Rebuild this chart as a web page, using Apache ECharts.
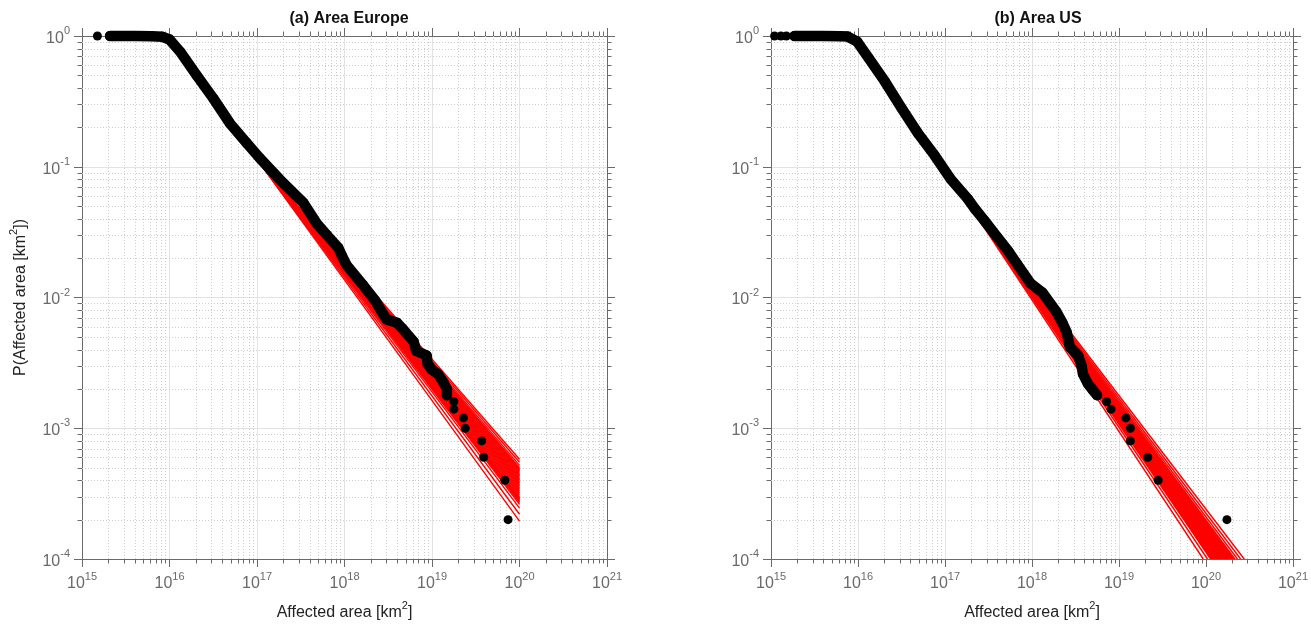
<!DOCTYPE html>
<html>
<head>
<meta charset="utf-8">
<title>Affected area</title>
<script src="https://cdn.jsdelivr.net/npm/echarts@6/dist/echarts.min.js"></script>
<style>
html, body { margin: 0; padding: 0; background: #fff; }
#c1 { width: 1311px; height: 626px; }
</style>
</head>
<body>
<div id="c1"></div>
<script>
// axis decades (tick labels are 10^e)
var xExp = [15, 16, 17, 18, 19, 20, 21];
var yExp = [-4, -3, -2, -1, 0];
var minorMul = [2, 3, 4, 5, 6, 7, 8, 9];

// (a) Europe: empirical CCDF, dense part [area, P]
var euCurve = [
	[2.09e15, 1.0], [3.98e15, 0.998], [6.3e15, 0.995], [8.3e15, 0.985], [1.0e16, 0.94],
	[1.32e16, 0.76], [2.04e16, 0.50], [3.16e16, 0.334], [4.9e16, 0.215], [7.6e16, 0.152],
	[1.07e17, 0.117], [1.82e17, 0.080], [3.39e17, 0.053], [4.79e17, 0.037], [6.3e17, 0.030],
	[8.5e17, 0.024], [9.3e17, 0.021], [1.05e18, 0.0178], [1.62e18, 0.0125], [2.24e18, 0.0095],
	[2.57e18, 0.0081], [3.02e18, 0.0068], [3.98e18, 0.0064], [4.68e18, 0.0057], [6.17e18, 0.0046],
	[6.6e18, 0.0039], [8.7e18, 0.0036], [8.9e18, 0.0031], [1.0e19, 0.0028], [1.17e19, 0.0026],
	[1.35e19, 0.00224], [1.48e19, 0.0020], [1.48e19, 0.00179]
];
// (a) Europe: separate dots
var euDots = [
	[1.5e15, 1.0], [1.78e19, 0.0016], [1.78e19, 0.0014], [2.29e19, 0.0012], [2.4e19, 0.001],
	[3.7e19, 0.0008], [3.9e19, 0.0006], [6.8e19, 0.0004], [7.4e19, 0.0002]
];
// (a) Europe: fitted power laws, all from one start point to P at 1e20
var euFitStart = [1e17, 0.114];
var euFitEndX = 1e20;
var euFitEndP = [
	5.8e-4, 5.5e-4, 5.2e-4, 5.0e-4, 4.9e-4, 4.8e-4, 4.7e-4, 4.6e-4, 4.5e-4, 4.4e-4,
	4.3e-4, 4.2e-4, 4.1e-4, 4.0e-4, 3.9e-4, 3.8e-4, 3.7e-4, 3.6e-4, 3.5e-4, 3.4e-4,
	3.3e-4, 3.2e-4, 3.1e-4, 3.0e-4, 2.95e-4, 2.9e-4, 2.85e-4, 2.8e-4, 2.75e-4, 2.7e-4,
	2.62e-4, 2.45e-4, 2.2e-4, 1.95e-4
];

// (b) US: empirical CCDF, dense part
var usCurve = [
	[1.86e15, 1.0], [3.98e15, 0.998], [6.3e15, 0.995], [7.6e15, 0.99], [9.8e15, 0.905],
	[1.33e16, 0.676], [2.04e16, 0.448], [3.16e16, 0.281], [4.9e16, 0.18], [7.6e16, 0.122],
	[1.17e17, 0.080], [1.82e17, 0.057], [2.19e17, 0.048], [2.82e17, 0.039], [3.09e17, 0.036],
	[3.98e17, 0.029], [5.25e17, 0.023], [6.76e17, 0.018], [9.55e17, 0.0129], [1.32e18, 0.0109],
	[1.9e18, 0.0078], [2.24e18, 0.0064], [2.51e18, 0.0054], [2.72e18, 0.0042], [3.39e18, 0.0036],
	[3.72e18, 0.0030], [3.85e18, 0.0026], [4.37e18, 0.0022], [5.0e18, 0.00196], [5.6e18, 0.00179]
];
var usDots = [
	[1.1e15, 1.0], [1.3e15, 1.0], [1.5e15, 1.0], [7.2e18, 0.0016], [8.1e18, 0.0014],
	[1.2e19, 0.0012], [1.35e19, 0.001], [1.35e19, 0.0008], [2.14e19, 0.0006],
	[2.82e19, 0.0004], [1.74e20, 0.0002]
];
// (b) US: fitted power laws, from one start point to the area where P reaches 1e-4
var usFitStart = [1e17, 0.097];
var usFitEndP = 1e-4;
var usFitEndX = [
	0.93e20, 1.04e20, 1.13e20, 1.16e20, 1.19e20, 1.22e20, 1.25e20, 1.28e20, 1.31e20, 1.34e20,
	1.37e20, 1.40e20, 1.43e20, 1.46e20, 1.50e20, 1.54e20, 1.58e20, 1.62e20, 1.66e20, 1.70e20,
	1.74e20, 1.78e20, 1.82e20, 1.87e20, 1.92e20, 1.97e20, 2.02e20, 2.08e20, 2.15e20, 2.3e20,
	2.5e20, 2.75e20
];

var font = '"Liberation Sans", Arial, Helvetica, sans-serif';
var axisColor = '#6a6a6a';
var xMin = Math.pow(10, xExp[0]), xMax = Math.pow(10, xExp[xExp.length - 1]);
var yMin = Math.pow(10, yExp[0]), yMax = Math.pow(10, yExp[yExp.length - 1]);

// minor tick positions 2..9 x 10^e
var xMinor = [];
for (var i = 0; i < xExp.length - 1; i++) {
	for (var j = 0; j < minorMul.length; j++) xMinor.push([minorMul[j] * Math.pow(10, xExp[i]), 1]);
}
var yMinor = [];
for (var i = 0; i < yExp.length - 1; i++) {
	for (var j = 0; j < minorMul.length; j++) yMinor.push([1e16, minorMul[j] * Math.pow(10, yExp[i])]);
}

var labelRich = {
	b: { fontFamily: font, fontSize: 16, color: axisColor, lineHeight: 21, verticalAlign: 'bottom' },
	s: { fontFamily: font, fontSize: 11, color: axisColor, lineHeight: 21, verticalAlign: 'top' }
};
var nameRich = {
	n: { fontFamily: font, fontSize: 16, color: '#222', lineHeight: 21, verticalAlign: 'bottom' },
	s: { fontFamily: font, fontSize: 11, color: '#222', lineHeight: 21, verticalAlign: 'top' }
};
function powLabel(v) {
	var e = Math.round(Math.log(v) / Math.LN10);
	return '{b|10}{s|' + e + '}';
}

function makeXAxis(g, top) {
	return {
		gridIndex: g, type: 'log', logBase: 10, min: xMin, max: xMax,
		position: top ? 'top' : 'bottom',
		name: top ? '' : '{n|Affected area [km}{s|2}{n|]}',
		nameLocation: 'middle', nameGap: 41,
		nameTextStyle: { rich: nameRich },
		axisLine: { show: true, lineStyle: { color: axisColor, width: 1 } },
		axisTick: { show: true, inside: false, length: 8, lineStyle: { color: axisColor } },
		axisLabel: { show: !top, margin: 12, formatter: powLabel, rich: labelRich },
		splitLine: { show: !top, lineStyle: { color: '#e3e3e3', width: 1 } },
		minorTick: { show: false }
	};
}
function makeYAxis(g, right, withName) {
	return {
		gridIndex: g, type: 'log', logBase: 10, min: yMin, max: yMax,
		position: right ? 'right' : 'left',
		name: withName ? '{n|P(Affected area [km}{s|2}{n|])}' : '',
		nameLocation: 'middle', nameRotate: 90, nameGap: 53,
		nameTextStyle: { rich: nameRich },
		axisLine: { show: true, lineStyle: { color: axisColor, width: 1 } },
		axisTick: { show: true, inside: false, length: 8, lineStyle: { color: axisColor } },
		axisLabel: { show: !right, margin: 12, formatter: powLabel, rich: labelRich },
		splitLine: { show: !right, lineStyle: { color: '#e3e3e3', width: 1 } }
	};
}

// minor grid (dotted) and minor ticks on all four sides
function minorXRender(params, api) {
	var b = api.coord([api.value(0), yMin]);
	var t = api.coord([api.value(0), yMax]);
	var x = Math.round(b[0]) + 0.5;
	return { type: 'group', children: [
		{ type: 'line', shape: { x1: x, y1: t[1], x2: x, y2: b[1] }, style: { stroke: '#cdcdcd', lineWidth: 1, lineDash: [1, 2] } },
		{ type: 'line', shape: { x1: x, y1: b[1], x2: x, y2: b[1] + 4.5 }, style: { stroke: axisColor, lineWidth: 1 } },
		{ type: 'line', shape: { x1: x, y1: t[1], x2: x, y2: t[1] - 4.5 }, style: { stroke: axisColor, lineWidth: 1 } }
	] };
}
function minorYRender(params, api) {
	var l = api.coord([xMin, api.value(1)]);
	var r = api.coord([xMax, api.value(1)]);
	var y = Math.round(l[1]) + 0.5;
	return { type: 'group', children: [
		{ type: 'line', shape: { x1: l[0], y1: y, x2: r[0], y2: y }, style: { stroke: '#cdcdcd', lineWidth: 1, lineDash: [1, 2] } },
		{ type: 'line', shape: { x1: l[0], y1: y, x2: l[0] - 4.5, y2: y }, style: { stroke: axisColor, lineWidth: 1 } },
		{ type: 'line', shape: { x1: r[0], y1: y, x2: r[0] + 4.5, y2: y }, style: { stroke: axisColor, lineWidth: 1 } }
	] };
}

function panelSeries(xi, yi, fits, curve, dots) {
	var s = [];
	s.push({ type: 'custom', xAxisIndex: xi, yAxisIndex: yi, renderItem: minorXRender, data: xMinor, z: 1, silent: true, clip: false });
	s.push({ type: 'custom', xAxisIndex: xi, yAxisIndex: yi, renderItem: minorYRender, data: yMinor, z: 1, silent: true, clip: false });
	for (var k = 0; k < fits.length; k++) {
		s.push({
			type: 'line', xAxisIndex: xi, yAxisIndex: yi, data: fits[k], showSymbol: false,
			lineStyle: { color: '#ff0000', width: 1.4 }, z: 2, silent: true
		});
	}
	s.push({
		type: 'line', xAxisIndex: xi, yAxisIndex: yi, data: curve, symbol: 'circle', symbolSize: 10,
		showSymbol: true, itemStyle: { color: '#000', opacity: 1 }, lineStyle: { color: '#000', width: 10.5, cap: 'round', join: 'round' },
		z: 3, clip: false, silent: true
	});
	s.push({
		type: 'scatter', xAxisIndex: xi, yAxisIndex: yi, data: dots, symbol: 'circle', symbolSize: 9,
		itemStyle: { color: '#000', opacity: 1 }, z: 3, clip: false, silent: true
	});
	return s;
}

function show() {
	var myChart = echarts.init(document.getElementById('c1'));
	var euFits = [], usFits = [];
	for (var k = 0; k < euFitEndP.length; k++) euFits.push([euFitStart, [euFitEndX, euFitEndP[k]]]);
	for (var k = 0; k < usFitEndX.length; k++) usFits.push([usFitStart, [usFitEndX[k], usFitEndP]]);

	var option = {
		animation: false,
		backgroundColor: '#fff',
		title: [
			{ text: '(a) Area Europe', left: 344, top: 6, textAlign: 'center', textStyle: { fontFamily: font, fontSize: 16, fontWeight: 'bold', color: '#111' } },
			{ text: '(b) Area US', left: 1033, top: 6, textAlign: 'center', textStyle: { fontFamily: font, fontSize: 16, fontWeight: 'bold', color: '#111' } }
		],
		grid: [
			{ left: 82, top: 36, width: 525, height: 524 },
			{ left: 771, top: 36, width: 525, height: 524 }
		],
		xAxis: [makeXAxis(0, false), makeXAxis(0, true), makeXAxis(1, false), makeXAxis(1, true)],
		yAxis: [makeYAxis(0, false, true), makeYAxis(0, true, false), makeYAxis(1, false, false), makeYAxis(1, true, false)],
		series: panelSeries(0, 0, euFits, euCurve, euDots).concat(panelSeries(2, 2, usFits, usCurve, usDots))
	};
	myChart.setOption(option);
}
show();
</script>
</body>
</html>
